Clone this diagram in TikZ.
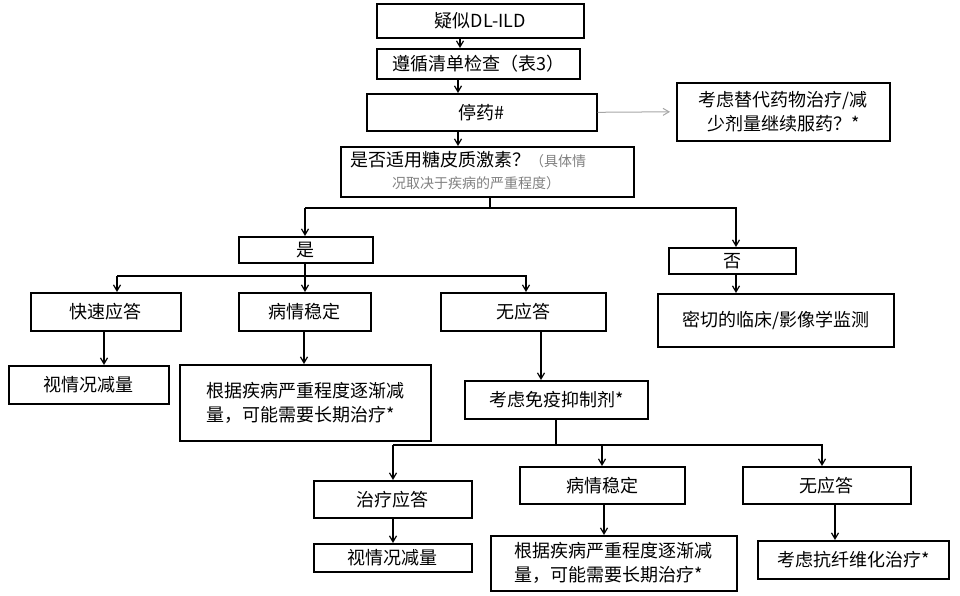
\documentclass[tikz,border=0pt]{standalone}
\usepackage{fontspec}
\setmainfont{Noto Sans CJK SC}
\usetikzlibrary{arrows.meta}
\begin{document}
\begin{tikzpicture}[x=1pt,y=-1pt,
  bx/.style={draw,line width=1.6pt,inner sep=0pt,font=\fontsize{18}{24}\selectfont,align=center,anchor=north west},
  ar/.style={-{Straight Barb[length=6pt,width=7pt]},line width=1.2pt},
  ln/.style={line width=1.2pt}]
\useasboundingbox (0,0) rectangle (960,595);
\newcommand{\bxn}[6]{\node[bx,minimum width=#4-#2,minimum height=#5-#3] (#1) at (#2,#3) {#6};}
\bxn{b1}{376}{3}{583}{37}{疑似DL-ILD}
\bxn{b2}{376}{48}{579}{78}{遵循清单检查（表3）}
\bxn{b3}{366}{93}{596}{130}{停药\#}
\bxn{alt}{676}{82}{889}{140}{考虑替代药物治疗/减\\少剂量继续服药？*}
\node[bx,minimum width=293,minimum height=50] (b4) at (340,146) {};
\node[font=\fontsize{18}{22}\selectfont,anchor=west,inner sep=0pt] (q1) at (350,160) {是否适用糖皮质激素？\textcolor{gray}{\fontsize{14}{16}\selectfont （具体情}};
\node[font=\fontsize{14}{16}\selectfont,text=gray,anchor=west,inner sep=0pt] (q2) at (392,183) {况取决于疾病的严重程度）};
\bxn{yes}{238}{236}{372}{262}{是}
\bxn{no}{668}{247}{795}{273}{否}
\bxn{r1}{30}{292}{180}{330}{快速应答}
\bxn{r2}{238}{292}{370}{330}{病情稳定}
\bxn{r3}{440}{292}{605}{330}{无应答}
\bxn{mon}{657}{293}{893}{346}{密切的临床/影像学监测}
\bxn{d1}{8}{365}{168}{403}{视情况减量}
\node[bx,minimum width=251,minimum height=76,align=left] (d2) at (179,364) {根据疾病严重程度逐渐减\\量，可能需要长期治疗*};
\bxn{imm}{464}{380}{647}{418}{考虑免疫抑制剂*}
\bxn{s1}{313}{480}{471}{517}{治疗应答}
\bxn{s2}{519}{466}{684}{503}{病情稳定}
\bxn{s3}{742}{466}{910}{503}{无应答}
\bxn{t1}{313}{543}{471}{571}{视情况减量}
\node[bx,minimum width=246,minimum height=55,align=left] (t2) at (490,535) {根据疾病严重程度逐渐减\\量，可能需要长期治疗*};
\bxn{t3}{757}{540}{948}{578}{考虑抗纤维化治疗*}
% connectors
\draw[ar] (b1.south -| 460,0) -- (b2.north -| 460,0);
\draw[ar] (b2.south -| 458,0) -- (b3.north -| 458,0);
\draw[ar] (b3.south -| 458,0) -- (b4.north -| 458,0);
\draw[ar,gray!70,line width=1pt] (b3.east) -- ([xshift=-6pt]alt.west);
\coordinate (j1) at (490,208);
\draw[ln] (b4.south -| j1) -- (j1);
\draw[ar] (305,208) -- (yes.north -| 305,0);
\draw[ar] (305,208) -- (736,208) -- (no.north -| 736,0);
\coordinate (j2) at (305,276);
\draw[ln] (yes.south -| j2) -- (j2);
\draw[ar] (117,276) -- (r1.north -| 117,0);
\draw[ar] (117,276) -- (526,276) -- (r3.north -| 526,0);
\draw[ar] (j2) -- (r2.north -| j2);
\draw[ar] (no.south -| 736,0) -- (mon.north -| 736,0);
\draw[ar] (r1.south -| 104,0) -- (d1.north -| 104,0);
\draw[ar] (r2.south -| 304,0) -- (d2.north -| 304,0);
\draw[ar] (r3.south -| 541,0) -- (imm.north -| 541,0);
\coordinate (j3) at (556,445);
\draw[ln] (imm.south -| j3) -- (j3);
\draw[ar] (393,445) -- (s1.north -| 393,0);
\draw[ar] (393,445) -- (822,445) -- (s3.north -| 822,0);
\draw[ar] (602,445) -- (s2.north -| 602,0);
\draw[ar] (s1.south -| 393,0) -- (t1.north -| 393,0);
\draw[ar] (s2.south -| 604,0) -- (t2.north -| 604,0);
\draw[ar] (s3.south -| 835,0) -- (t3.north -| 835,0);
\end{tikzpicture}
\end{document}
